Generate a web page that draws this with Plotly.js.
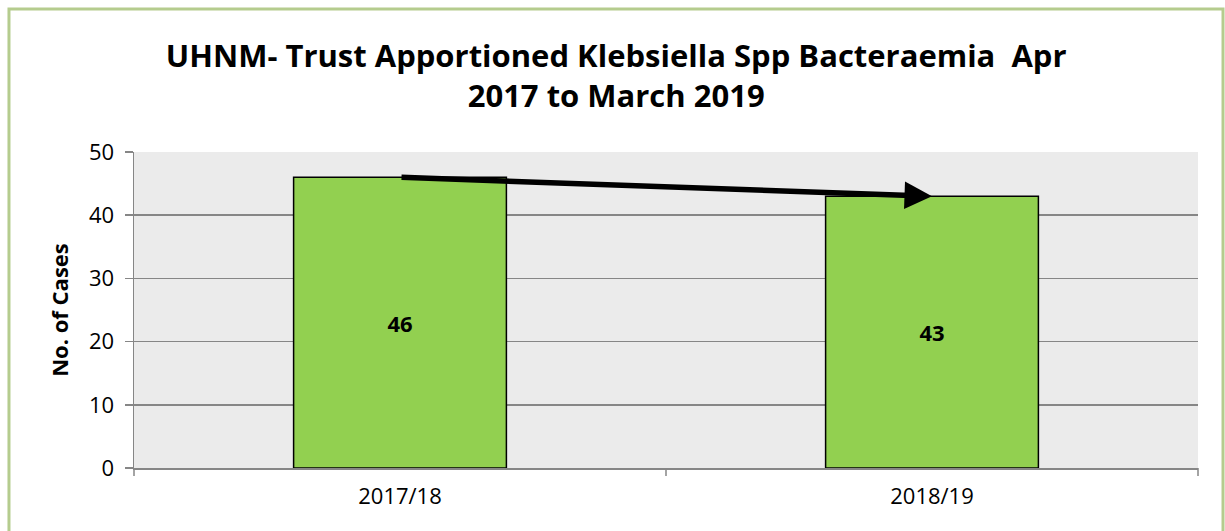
<!DOCTYPE html>
<html>
<head>
<meta charset="utf-8">
<script src="https://cdn.plot.ly/plotly-3.0.1.min.js"></script>
<style>
html,body{margin:0;padding:0;background:#fff;}
#chart{width:1225px;height:531px;}
</style>
</head>
<body>
<div id="chart"></div>
<script>
const categories = ["2017/18", "2018/19"];
const cases = [46, 43];
const yTicks = [0, 10, 20, 30, 40, 50];

const font = "Open Sans, DejaVu Sans, sans-serif";

const trace = {
  type: "bar",
  x: categories,
  y: cases,
  width: 0.4,
  marker: {color: "#92d050", line: {color: "#000000", width: 1.5}},
  text: cases.map(String),
  textposition: "inside",
  insidetextanchor: "middle",
  textfont: {family: font, size: 22, color: "#000"},
  texttemplate: "<b>%{text}</b>",
  hoverinfo: "none"
};

const layout = {
  width: 1225,
  height: 531,
  margin: {l: 134, r: 27, t: 152, b: 63},
  paper_bgcolor: "#ffffff",
  plot_bgcolor: "#ebebeb",
  showlegend: false,
  title: {
    text: "<b>UHNM- Trust Apportioned Klebsiella Spp Bacteraemia  Apr<br>2017 to March 2019</b>",
    font: {family: font, size: 31, color: "#000"},
    x: 0.503, xanchor: "center",
    y: 0.874, yanchor: "middle"
  },
  xaxis: {
    type: "category",
    range: [-0.5, 1.5],
    showgrid: false,
    showline: true,
    linecolor: "#868686",
    linewidth: 1.5,
    ticks: "",
    tickfont: {family: font, size: 22, color: "#000"},
    ticklabelstandoff: 8,
    fixedrange: true
  },
  yaxis: {
    range: [0, 50],
    tickvals: yTicks,
    ticktext: yTicks.map(String),
    showgrid: true,
    gridcolor: "#868686",
    gridwidth: 1.5,
    showline: true,
    linecolor: "#868686",
    linewidth: 1.5,
    ticks: "outside",
    ticklen: 8,
    tickcolor: "#868686",
    tickwidth: 1.5,
    tickfont: {family: font, size: 22, color: "#000"},
    ticklabelstandoff: 6,
    zeroline: false,
    title: {text: "<b>No. of Cases</b>", font: {family: font, size: 22, color: "#000"}, standoff: 14},
    fixedrange: true
  },
  shapes: [
    {type: "rect", xref: "paper", yref: "paper", x0: -0.1175, x1: 1.0235, y0: -0.3, y1: 1.4525,
     line: {color: "#b5cc8e", width: 3}, fillcolor: "rgba(0,0,0,0)", layer: "below"},
    {type: "line", xref: "paper", yref: "paper", x0: 0.5, x1: 0.5, y0: 0, y1: -0.025,
     line: {color: "#868686", width: 1.5}},
    {type: "line", xref: "paper", yref: "paper", x0: 1, x1: 1, y0: 0, y1: -0.025,
     line: {color: "#868686", width: 1.5}},
    {type: "line", xref: "paper", yref: "paper", x0: 0, x1: 0, y0: 0, y1: -0.025,
     line: {color: "#868686", width: 1.5}}
  ],
  annotations: [
    {x: categories[1], y: cases[1], xref: "x", yref: "y",
     ax: categories[0], ay: cases[0], axref: "x", ayref: "y",
     showarrow: true, arrowhead: 2, arrowsize: 1, arrowwidth: 5.5, arrowcolor: "#000",
     text: "", standoff: 0}
  ]
};

Plotly.newPlot("chart", [trace], layout, {displayModeBar: false, staticPlot: true});
</script>
</body>
</html>
